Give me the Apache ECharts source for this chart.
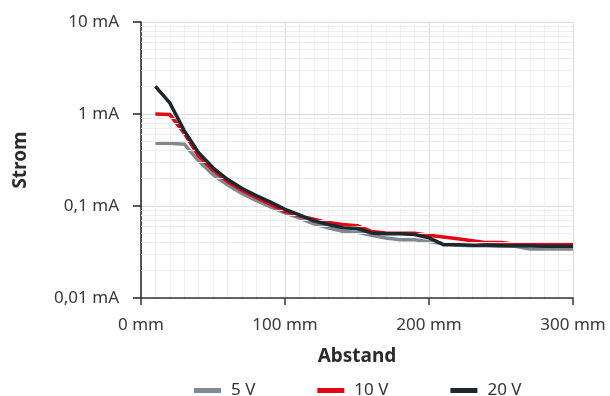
<!DOCTYPE html>
<html>
<head>
<meta charset="utf-8">
<script src="https://cdn.jsdelivr.net/npm/echarts@6/dist/echarts.min.js"></script>
<style>
html,body{margin:0;padding:0;background:#fff;}
#c{width:610px;height:396px;}
</style>
</head>
<body>
<div id="c"></div>
<script>
var distances = [10,20,30,40,50,60,70,80,90,100,110,120,130,140,150,160,170,180,190,200,210,220,230,240,250,260,270,280,290,300];
var v5 = [0.48,0.48,0.47,0.31,0.22,0.17,0.137,0.115,0.098,0.084,0.074,0.064,0.058,0.053,0.052,0.048,0.045,0.043,0.043,0.041,0.039,0.0375,0.037,0.037,0.037,0.0365,0.034,0.034,0.034,0.034];
var v10 = [1.0,0.99,0.62,0.35,0.245,0.185,0.148,0.124,0.104,0.087,0.078,0.072,0.066,0.063,0.061,0.053,0.051,0.0505,0.0505,0.048,0.046,0.044,0.042,0.040,0.040,0.0385,0.0385,0.0385,0.0385,0.0385];
var v20 = [2.0,1.32,0.66,0.38,0.26,0.195,0.156,0.13,0.11,0.092,0.08,0.069,0.063,0.058,0.057,0.051,0.050,0.050,0.049,0.045,0.038,0.038,0.0375,0.0375,0.037,0.037,0.037,0.0365,0.0365,0.0365];
var seriesNames = ['5 V','10 V','20 V'];
var seriesColors = ['#7f8991','#e30613','#1f272e'];
var minorGridValues = [0.02,0.03,0.04,0.05,0.06,0.07,0.08,0.09,0.2,0.3,0.4,0.5,0.6,0.7,0.8,0.9,2,3,4,5,6,7,8,9];
var FONT = 'Noto Sans';

function pairs(xs, ys){ return xs.map(function(x,i){return [x, ys[i]];}); }
function fmtY(v){ var n = Number(v.toPrecision(6)); return String(n).replace('.', ',') + ' mA'; }

var chart = echarts.init(document.getElementById('c'));
var lineSeries = [v5, v10, v20].map(function(vals, i){
  return {
    name: seriesNames[i], type: 'line', data: pairs(distances, vals),
    symbol: 'none', smooth: false, z: 3 + i,
    lineStyle: {color: seriesColors[i], width: 3.5},
    itemStyle: {color: seriesColors[i]}
  };
});
var gridSeries = {
  type: 'line', data: [], silent: true, z: 1,
  markLine: {
    silent: true, symbol: 'none', animation: false,
    label: {show: false},
    lineStyle: {color: '#ececec', width: 1, type: 'solid'},
    data: minorGridValues.map(function(v){ return {yAxis: v}; })
  }
};

chart.setOption({
  animation: false,
  textStyle: {fontFamily: FONT},
  grid: {left: 141, right: 37, top: 22, bottom: 98, containLabel: false},
  legend: {
    data: seriesNames, left: 189, top: 377, icon: 'rect',
    itemWidth: 27, itemHeight: 5, itemGap: 62,
    textStyle: {fontFamily: FONT, fontSize: 17, color: '#333', padding: [0,0,0,5]}
  },
  xAxis: {
    type: 'value', min: 0, max: 300, interval: 100,
    name: 'Abstand', nameLocation: 'middle', nameGap: 49,
    nameTextStyle: {fontFamily: FONT, fontSize: 19, fontWeight: 'bold', color: '#2b2b2b'},
    axisLine: {show: true, onZero: false, lineStyle: {color: '#333', width: 1.5}},
    axisTick: {show: true, length: 7, lineStyle: {color: '#333', width: 1.5}},
    axisLabel: {fontFamily: FONT, fontSize: 17, color: '#383838', margin: 19, formatter: function(v){return v + ' mm';}},
    splitLine: {show: true, lineStyle: {color: '#dcdcdc', width: 1}},
    minorTick: {show: false, splitNumber: 10},
    minorSplitLine: {show: true, lineStyle: {color: '#efefef', width: 1}}
  },
  yAxis: {
    type: 'log', logBase: 10, min: 0.01, max: 10,
    name: 'Strom', nameLocation: 'middle', nameGap: 111, nameRotate: 90,
    nameTextStyle: {fontFamily: FONT, fontSize: 19, fontWeight: 'bold', color: '#2b2b2b'},
    axisLine: {show: true, lineStyle: {color: '#222', width: 1.5}},
    axisTick: {show: true, length: 8, lineStyle: {color: '#222', width: 1.5}},
    axisLabel: {fontFamily: FONT, fontSize: 17, color: '#383838', margin: 22, formatter: fmtY},
    splitLine: {show: true, lineStyle: {color: '#dcdcdc', width: 1}}
  },
  series: [gridSeries].concat(lineSeries)
});
</script>
</body>
</html>
